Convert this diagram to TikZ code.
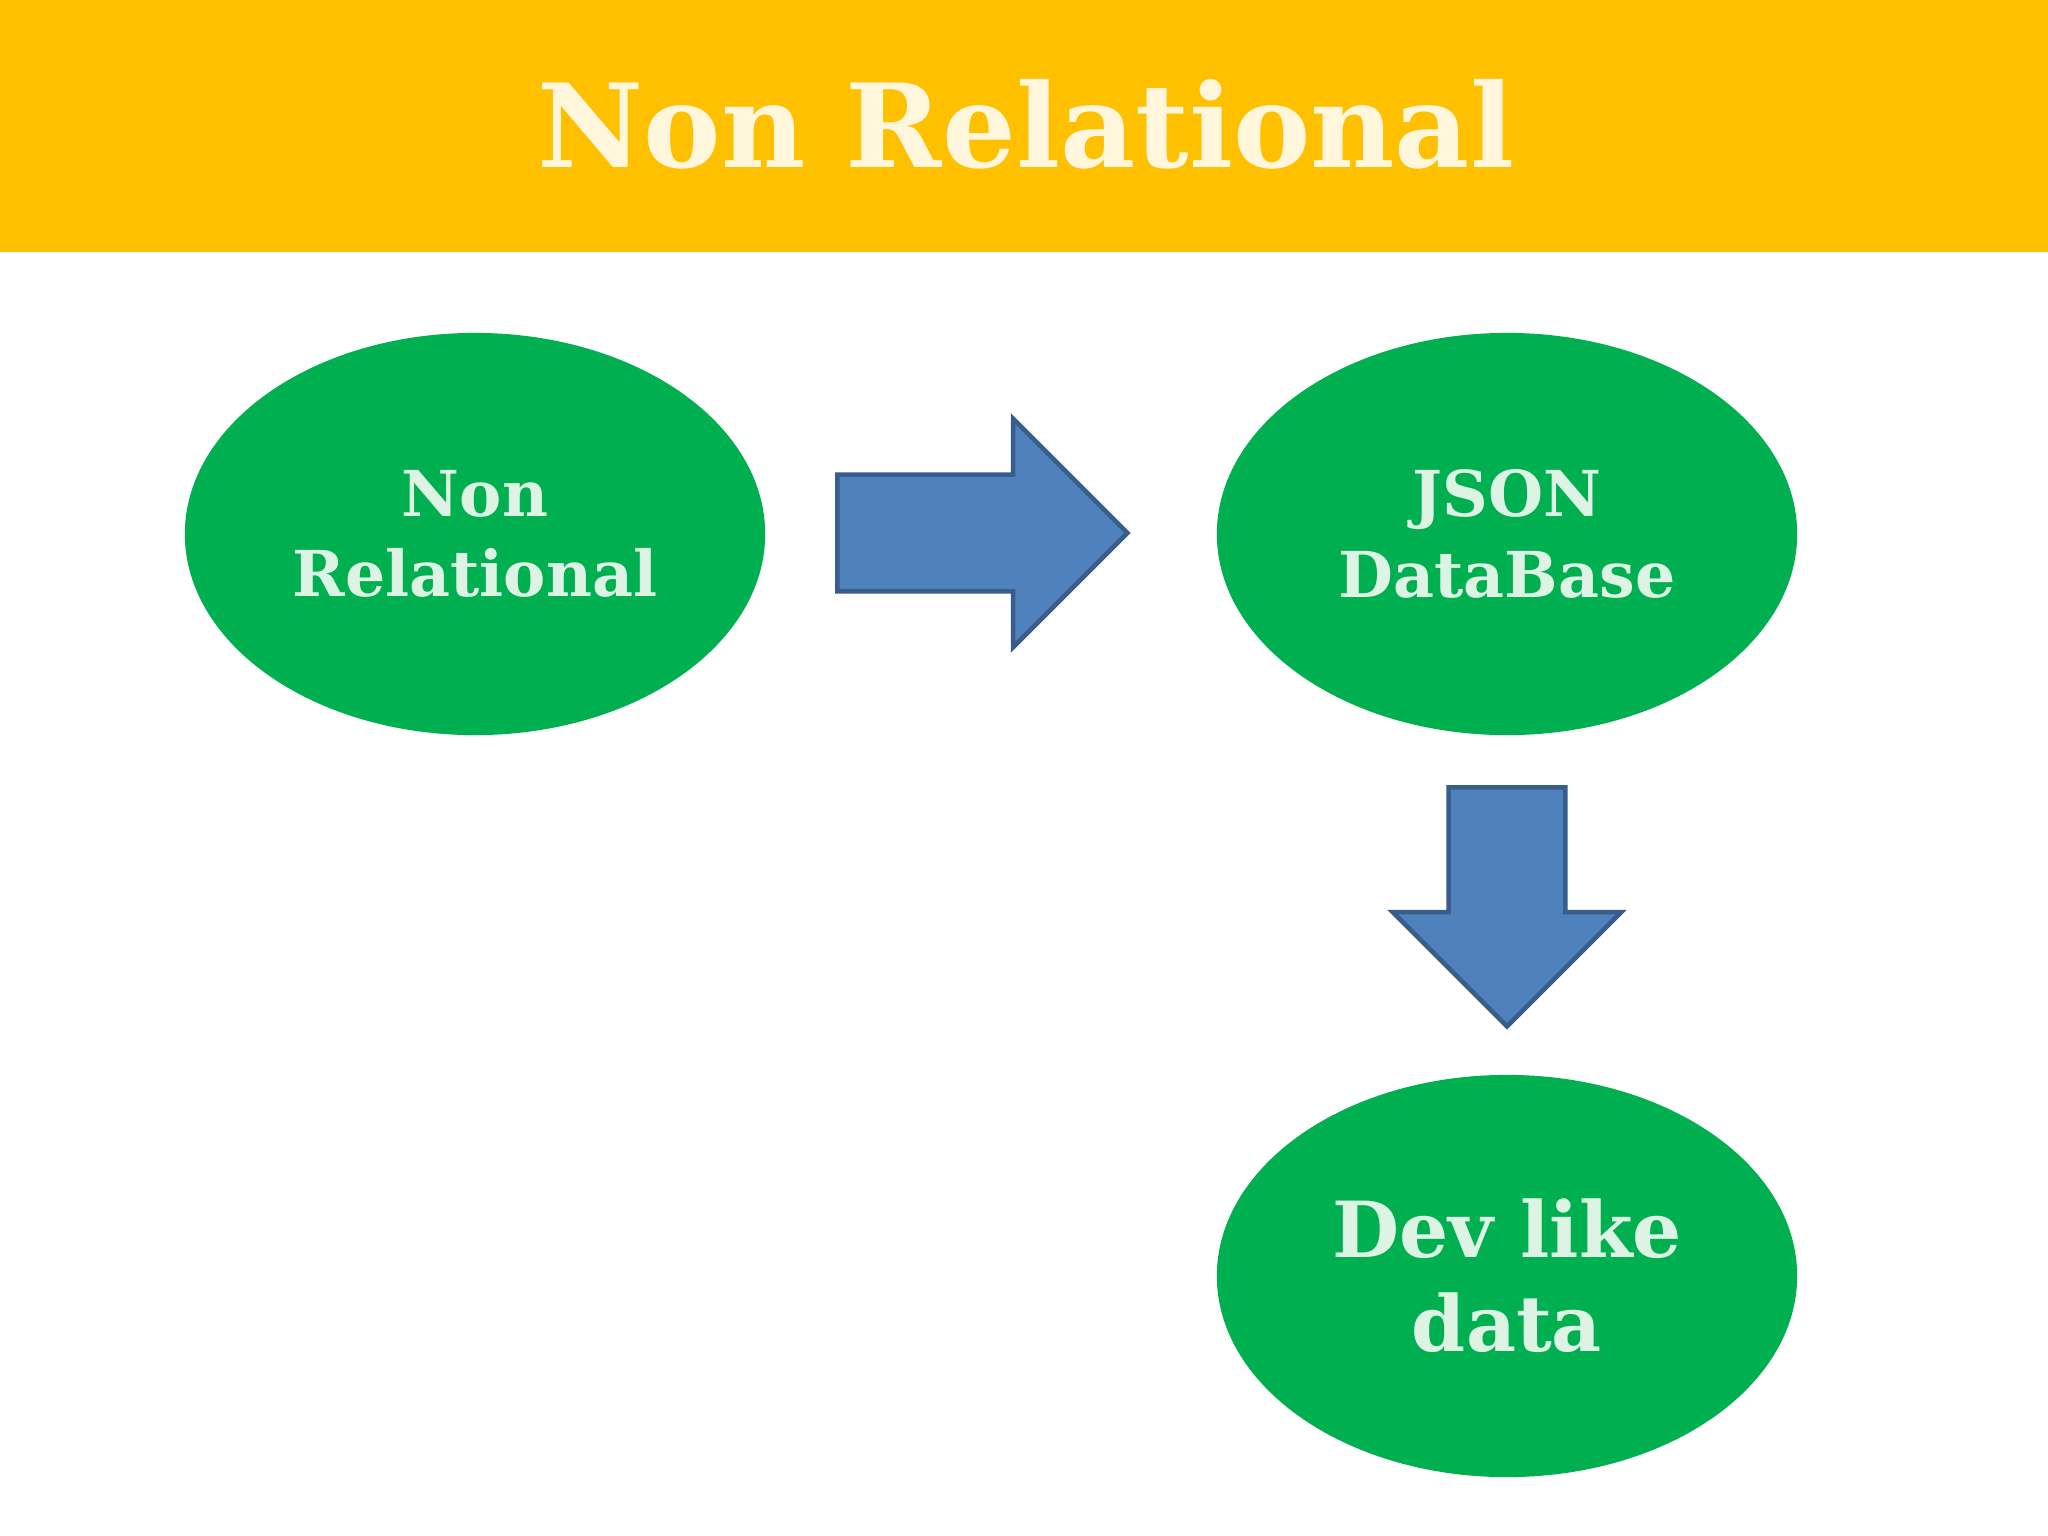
\documentclass[tikz,border=0pt]{standalone}
\usepackage{fontspec}
\setmainfont{DejaVu Serif}
\usetikzlibrary{shapes.geometric,shapes.arrows}
\definecolor{hdr}{HTML}{FFC000}
\definecolor{grn}{HTML}{00B050}
\definecolor{blu}{HTML}{4F81BD}
\definecolor{bluedge}{HTML}{385D8A}
\definecolor{titletxt}{HTML}{FFF6DC}
\definecolor{elltxt}{HTML}{DDF4E4}
\tikzset{
  oval/.style={ellipse, fill=grn, draw=none, minimum width=5.80cm, minimum height=4.02cm,
    inner sep=0pt, text=elltxt, align=center},
  smalltxt/.style={font=\bfseries\fontsize{18}{22.8}\selectfont},
  bigtxt/.style={font=\bfseries\fontsize{22}{26.7}\selectfont},
  blockarrow/.style={single arrow, fill=blu, draw=bluedge, line width=1.3pt,
    inner xsep=0pt, inner ysep=0.56cm, single arrow head extend=0.56cm,
    single arrow tip angle=90},
}
\begin{document}
\begin{tikzpicture}[x=0.01cm,y=-0.01cm]
\useasboundingbox (0,0) rectangle (2048,1536);
\fill[white] (0,0) rectangle (2048,1536);
\fill[hdr] (0,0) rectangle (2048,252);
\node[anchor=base, text=titletxt, font=\bfseries\fontsize{33}{40}\selectfont, inner sep=0pt] (title) at (1026,167) {Non Relational};
\node[oval, smalltxt] (nonrel) at (475,534) {Non\\Relational};
\node[oval, smalltxt] (json) at (1507,534) {JSON\\DataBase};
\node[oval, bigtxt] (dev) at (1507,1276) {Dev like\\data};
\node[blockarrow, minimum height=2.90cm, anchor=tail] (a1) at (835,533) {};
\node[blockarrow, minimum height=2.39cm, rotate=-90, anchor=tail] (a2) at (1507,785) {};
\end{tikzpicture}
\end{document}
